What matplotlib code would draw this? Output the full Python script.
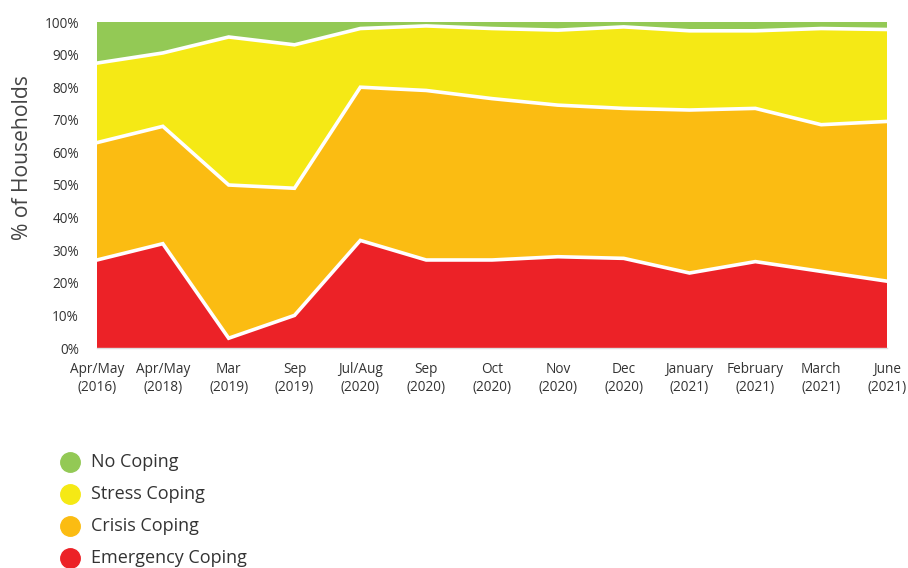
import matplotlib
matplotlib.use("Agg")
import matplotlib.pyplot as plt
from matplotlib.lines import Line2D
import numpy as np

plt.rcParams["font.family"] = ["Open Sans", "DejaVu Sans"]

rounds = [
    "Apr/May\n(2016)", "Apr/May\n(2018)", "Mar\n(2019)", "Sep\n(2019)",
    "Jul/Aug\n(2020)", "Sep\n(2020)", "Oct\n(2020)", "Nov\n(2020)",
    "Dec\n(2020)", "January\n(2021)", "February\n(2021)", "March\n(2021)",
    "June\n(2021)",
]

# % of households per coping strategy
emergency = [27, 32, 3, 10, 33, 27, 27, 28, 27.5, 23, 26.5, 23.5, 20.5]
crisis = [36, 36, 47, 39, 47, 52, 49.5, 46.5, 46, 50, 47, 45, 49]
stress = [24.4, 22.5, 45.4, 44, 18, 19.8, 21.5, 23, 25, 24.3, 23.8, 29.5, 28.2]
no_coping = [12.6, 9.5, 4.6, 7, 2, 1.2, 2, 2.5, 1.5, 2.7, 2.7, 2, 2.3]

series = [emergency, crisis, stress, no_coping]
names = ["Emergency Coping", "Crisis Coping", "Stress Coping", "No Coping"]
colors = ["#ec2227", "#fbbc12", "#f5e915", "#93c955"]

x = np.arange(len(rounds))

W, H = 908, 568
fig = plt.figure(figsize=(W / 100, H / 100), dpi=100)
ax = fig.add_axes([97 / W, 1 - 348 / H, 790 / W, 326 / H])

ax.stackplot(x, *series, colors=colors, linewidth=0)

# white separators between the layers
cum = np.cumsum(np.array(series), axis=0)
for row in cum[:-1]:
    ax.plot(x, row, color="white", linewidth=2.6, solid_joinstyle="miter")

ax.set_xlim(0, len(rounds) - 1)
ax.set_ylim(0, 100)
ax.set_xticks(x)
ax.set_xticklabels(rounds, fontsize=9.8, color="#333333", linespacing=1.25)
ax.set_yticks(np.arange(0, 101, 10))
ax.set_yticklabels([f"{v}%" for v in range(0, 101, 10)], fontsize=9.8, color="#333333")
ax.tick_params(length=0)
ax.tick_params(axis="y", pad=13)
ax.tick_params(axis="x", pad=10)
ax.set_ylabel("% of Households", fontsize=15.2, color="#444444")
ax.yaxis.set_label_coords(-64 / 790, (348 - 158) / 326)

for side in ["top", "right", "left"]:
    ax.spines[side].set_visible(False)
ax.spines["bottom"].set_color("#dddddd")
ax.spines["bottom"].set_linewidth(1)

# legend drawn by hand: dot + label per row, top row first
for i, (name, c) in enumerate(zip(names[::-1], colors[::-1])):
    yf = 1 - (462 + 32 * i) / H
    fig.add_artist(Line2D([70 / W], [yf], transform=fig.transFigure,
                          marker="o", markersize=14, linestyle="none",
                          markerfacecolor=c, markeredgecolor=c))
    fig.text(91 / W, yf, name, fontsize=13, color="#333333", va="center")

fig.savefig("out.png", dpi=100)
